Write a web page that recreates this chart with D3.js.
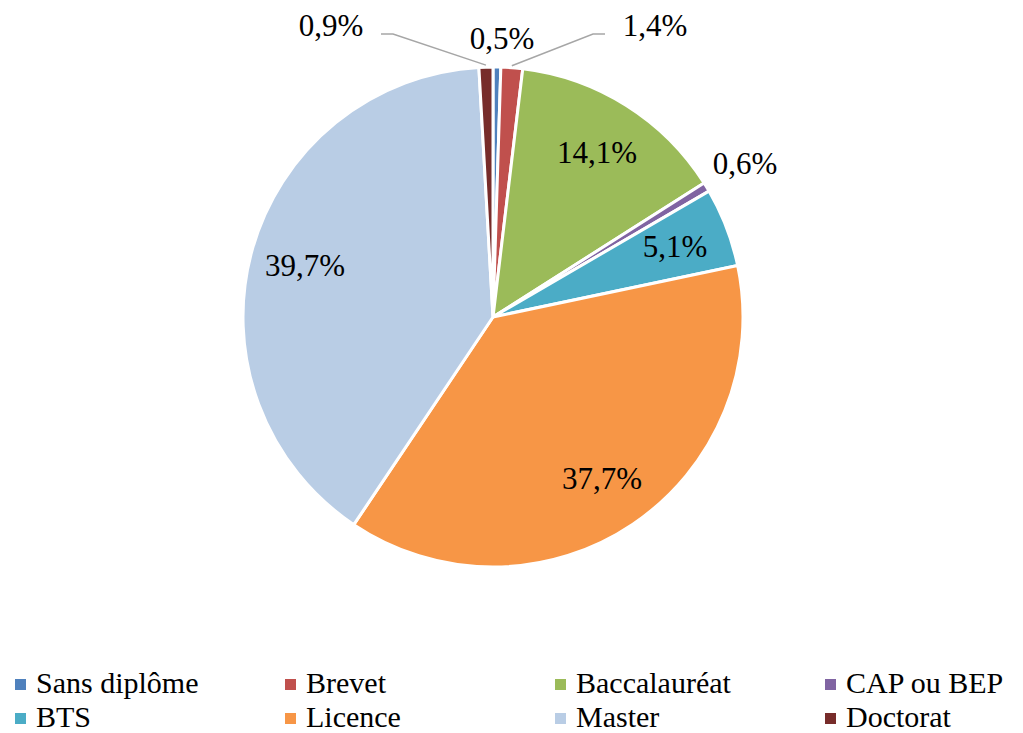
<!DOCTYPE html>
<html>
<head>
<meta charset="utf-8">
<script src="https://cdn.jsdelivr.net/npm/d3@7"></script>
<style>
  body { margin: 0; background: #fff; font-family: "Liberation Serif", Tinos, "Nimbus Roman", "Times New Roman", Times, serif; }
  svg text { font-family: "Liberation Serif", Tinos, "Nimbus Roman", "Times New Roman", Times, serif; }
</style>
</head>
<body>
<div id="chart"></div>
<script>
// categories and shares (%), clockwise from 12 o'clock
var categories = ["Sans diplôme", "Brevet", "Baccalauréat", "CAP ou BEP", "BTS", "Licence", "Master", "Doctorat"];
var shares = [0.5, 1.4, 14.1, 0.6, 5.1, 37.7, 39.7, 0.9];
var colors = ["#4F81BD", "#C0504D", "#9BBB59", "#8064A2", "#4BACC6", "#F79646", "#B9CDE5", "#772C2A"];

var width = 1023, height = 733;
var cx = 493, cy = 317, radius = 250;

var svg = d3.select("#chart").append("svg")
    .attr("width", width)
    .attr("height", height);

var data = categories.map(function (c, i) {
    return { name: c, value: shares[i], color: colors[i] };
});

var pie = d3.pie().sort(null).value(function (d) { return d.value; });
var arcs = pie(data);

var arc = d3.arc().innerRadius(0).outerRadius(radius);
var labelArc = d3.arc().innerRadius(radius * 0.78).outerRadius(radius * 0.78);

var g = svg.append("g").attr("transform", "translate(" + cx + "," + cy + ")");

g.selectAll("path.slice")
    .data(arcs)
    .enter().append("path")
    .attr("class", "slice")
    .attr("d", arc)
    .attr("fill", function (d) { return d.data.color; })
    .attr("stroke", "#fff")
    .attr("stroke-width", 3)
    .attr("stroke-linejoin", "round");

function fmt(v) { return v.toFixed(1).replace(".", ",") + "%"; }

function addLabel(x, y, txt) {
    // y is the visual centre of the digits
    g.append("text")
        .attr("x", x).attr("y", y + 10.5)
        .attr("text-anchor", "middle")
        .attr("font-size", 31)
        .attr("fill", "#000")
        .text(txt);
}

// big slices get their label inside, small ones outside
arcs.forEach(function (d) {
    var mid = (d.startAngle + d.endAngle) / 2;
    if (d.data.value >= 3) {
        var c = labelArc.centroid(d);
        addLabel(c[0], c[1], fmt(d.data.value));
        return;
    }
    var edge = [Math.sin(mid) * radius, -Math.cos(mid) * radius];
    var nearTop = Math.abs(Math.sin(mid)) < 0.1;
    if (nearTop && d.data.value > 0.5) {
        // crowded at the top: push sideways with a leader line
        var side = Math.sin(mid) > 0 ? 1 : -1;
        var lx = side * 162, ly = -radius - 34;
        var anchorX = side > 0 ? lx - 50 : lx + 50;
        g.append("polyline")
            .attr("points", [[edge[0], edge[1] - 2], [side * 100, ly + 1], [anchorX, ly + 1]].join(" "))
            .attr("fill", "none")
            .attr("stroke", "#A6A6A6")
            .attr("stroke-width", 1.5);
        addLabel(lx, ly - 8, fmt(d.data.value));
    } else if (nearTop) {
        addLabel(edge[0] + 5, -radius - 29, fmt(d.data.value));
    } else {
        addLabel(Math.sin(mid) * radius * 1.18, -Math.cos(mid) * radius * 1.18, fmt(d.data.value));
    }
});

// legend: 4 columns, 2 rows
var legendCols = 4;
var colX = d3.scaleLinear().domain([0, 1]).range([15, 285]);
var rowY = d3.scaleLinear().domain([0, 1]).range([693, 727]);

var legend = svg.selectAll("g.legend")
    .data(data)
    .enter().append("g")
    .attr("class", "legend")
    .attr("transform", function (d, i) {
        return "translate(" + colX(i % legendCols) + "," + rowY(Math.floor(i / legendCols)) + ")";
    });

legend.append("rect")
    .attr("x", 0).attr("y", -14)
    .attr("width", 11).attr("height", 11)
    .attr("fill", function (d) { return d.color; });

legend.append("text")
    .attr("x", 21).attr("y", 0)
    .attr("font-size", 30)
    .attr("fill", "#000")
    .text(function (d) { return d.name; });
</script>
</body>
</html>
